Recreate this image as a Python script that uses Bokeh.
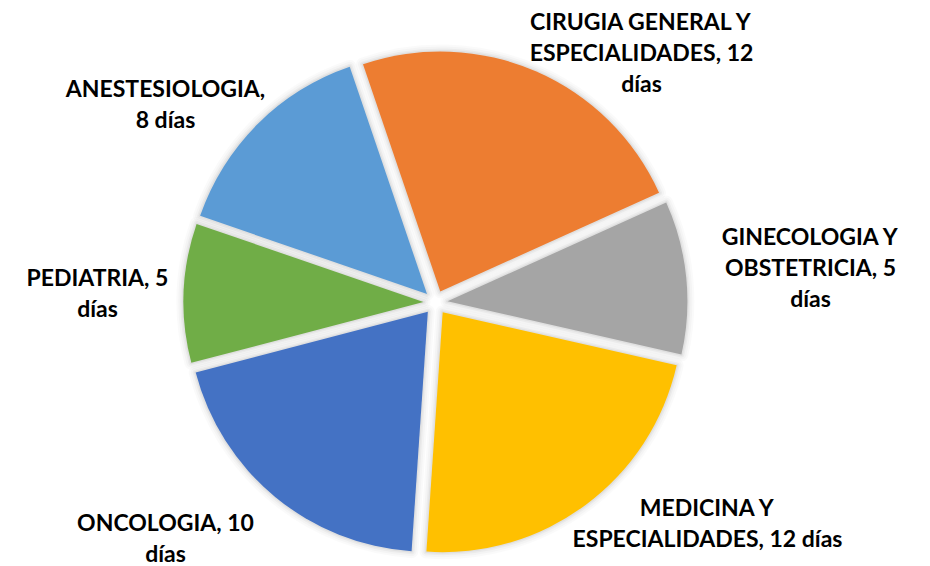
import numpy as np
from bokeh.plotting import figure
from bokeh.models import Range1d, ColumnDataSource
from bokeh.core.properties import value
from bokeh.embed import file_html
from bokeh.resources import INLINE

# ---- data (slice sizes; labels show them rounded) ----
categories = ["ANESTESIOLOGIA", "CIRUGIA GENERAL Y ESPECIALIDADES",
              "GINECOLOGIA Y OBSTETRICIA", "MEDICINA Y ESPECIALIDADES",
              "ONCOLOGIA", "PEDIATRIA"]
values = [7.6, 12.3, 5.4, 11.8, 10.4, 4.9]
unit = "días"
colors = ["#5B9BD5", "#ED7D31", "#A5A5A5", "#FFC000", "#4472C4", "#70AD47"]

# ---- layout ----
W, H = 930, 566
FIRST_ANGLE = 289.0          # degrees clockwise from 12 o'clock
CX_PX, CY_PX = 435, 302      # pie centre (page pixels)
R = 240
EXPLODE = 12
FONT = "Lato"
FONT_SIZE = "23px"
LINE_H = 31
# words per line for each label, and label block centre (page pixels)
WRAP = [[1, 2], [3, 2, 1], [2, 2, 1], [2, 3], [2, 1], [2, 1]]
LABEL_POS = [(165, 103), (641, 51), (810, 266), (707, 522), (165, 537), (97, 292)]


def px(x):
    return x


def py(y):
    return H - y


cx, cy = px(CX_PX), py(CY_PX)
vals = np.array(values, dtype=float)
total = vals.sum()
cum = np.concatenate([[0], np.cumsum(vals)])
start_cw = FIRST_ANGLE + 360 * cum[:-1] / total
end_cw = FIRST_ANGLE + 360 * cum[1:] / total
mid_cw = np.radians((start_cw + end_cw) / 2)

src = ColumnDataSource(dict(
    x=cx + EXPLODE * np.sin(mid_cw),
    y=cy + EXPLODE * np.cos(mid_cw),
    start=np.radians(90 - start_cw),
    end=np.radians(90 - end_cw),
    color=colors,
))

p = figure(width=W, height=H, x_range=Range1d(0, W), y_range=Range1d(0, H),
           output_backend="svg", toolbar_location=None, min_border=0)
p.axis.visible = False
p.grid.visible = False
p.outline_line_color = None
p.background_fill_color = "white"
p.border_fill_color = "white"

# soft shadow
for lw, a in [(14, 0.02), (10, 0.025), (6, 0.035), (3, 0.045)]:
    p.wedge(x="x", y="y", radius=R, start_angle="start", end_angle="end",
            direction="clock", source=src, fill_color=None,
            line_color="black", line_alpha=a, line_width=lw, line_join="round")

p.wedge(x="x", y="y", radius=R, start_angle="start", end_angle="end",
        direction="clock", source=src, fill_color="color", line_color=None)

# labels (value shown rounded half-up, as the spreadsheet does)
lx, ly, lt = [], [], []
for cat, v, wrap, (bx, by) in zip(categories, values, WRAP, LABEL_POS):
    words = f"{cat}, {int(np.floor(v + 0.5))} {unit}".split(" ")
    lines = []
    i = 0
    for n in wrap:
        lines.append(" ".join(words[i:i + n]))
        i += n
    nl = len(lines)
    for k, line in enumerate(lines):
        lx.append(px(bx))
        ly.append(py(by + (k - (nl - 1) / 2) * LINE_H))
        lt.append(line)

p.text(x=lx, y=ly, text=lt, text_font=value(FONT), text_font_size=FONT_SIZE,
       text_font_style="bold", text_color="black", text_align="center",
       text_baseline="middle")

open("out.html", "w").write(file_html(p, INLINE))
